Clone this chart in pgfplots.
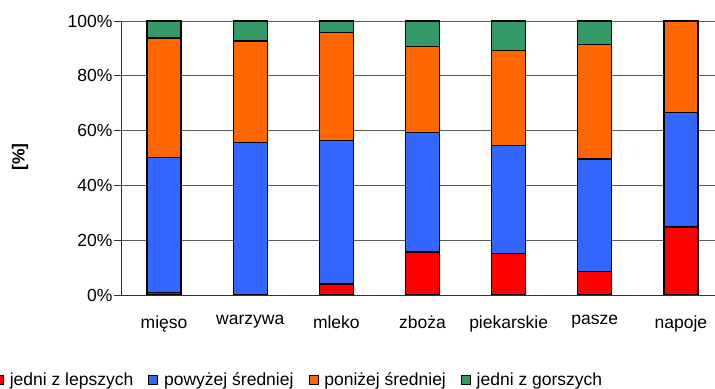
\documentclass[border=0pt]{standalone}
\usepackage{fontspec}
\setmainfont{Liberation Sans}
\usepackage{pgfplots}
\pgfplotsset{compat=1.18}
\definecolor{cRed}{HTML}{FF0000}
\definecolor{cBlue}{HTML}{3366FF}
\definecolor{cOrange}{HTML}{FF6600}
\definecolor{cGreen}{HTML}{339966}
\newcommand\f{\fontsize{17.5bp}{20bp}\selectfont}
\begin{document}
\begin{tikzpicture}
\useasboundingbox (0,0) rectangle (715bp,389bp);
\begin{axis}[
  at={(121bp,94bp)}, anchor=south west,
  scale only axis, width=603bp, height=274bp,
  ybar stacked, bar width=34bp,
  xmin=-0.5, xmax=6.5, ymin=0, ymax=100,
  axis x line*=bottom, axis y line*=left,
  axis line style={black!80, line width=0.9bp},
  xtick={0,...,6},
  xticklabels={mięso, warzywa, mleko, zboża, piekarskie, pasze, napoje},
  x tick style={draw=none},
  extra x ticks={0.5,1.5,2.5,3.5,4.5,5.5},
  extra x tick labels={},
  extra x tick style={grid=none, major tick length=5bp, tick align=outside, tick style={draw=black!70, line width=0.8bp}},
  ytick={0,20,40,60,80,100},
  yticklabels={0\%,20\%,40\%,60\%,80\%,100\%},
  y tick style={black!80, line width=0.8bp},
  tick align=outside, major tick length=7bp,
  ymajorgrids, grid style={black!65, line width=0.8bp},
  tick label style={font=\f},
  yticklabel style={xshift=2bp},
  xticklabel style={yshift=-10bp},
  ylabel={\textbf{[\%]}},
  ylabel style={font=\f, at={(axis description cs:-0.1675,0.504)}, anchor=center},
  legend columns=4,
  legend style={at={(axis description cs:-0.2106,-0.310)}, anchor=west,
    draw=none, fill=none, inner sep=0pt, outer sep=0pt, font=\f,
    nodes={inner sep=1bp},
    /tikz/every odd column/.append style={column sep=5bp},
    /tikz/every even column/.append style={column sep=14bp}},
  legend cell align=left,
  legend image code/.code={\draw[#1, line width=0.8bp] (0bp,-4.5bp) rectangle (9bp,4.5bp);},
]
\addplot[fill=cRed, draw=black, line width=1.2bp] coordinates {(0,1.0) (1,0) (2,4.0) (3,15.7) (4,15.1) (5,8.5) (6,24.8)};
\addplot[fill=cBlue, draw=black, line width=1.2bp] coordinates {(0,49.3) (1,55.7) (2,52.3) (3,43.7) (4,39.4) (5,41.1) (6,41.7)};
\addplot[fill=cOrange, draw=black, line width=1.2bp] coordinates {(0,43.5) (1,37.0) (2,39.4) (3,31.4) (4,34.6) (5,41.8) (6,33.5)};
\addplot[fill=cGreen, draw=black, line width=1.2bp] coordinates {(0,6.2) (1,7.3) (2,4.3) (3,9.2) (4,10.9) (5,8.6) (6,0)};
\legend{jedni z lepszych, powyżej średniej, poniżej średniej, jedni z gorszych}
\end{axis}
\end{tikzpicture}
\end{document}
